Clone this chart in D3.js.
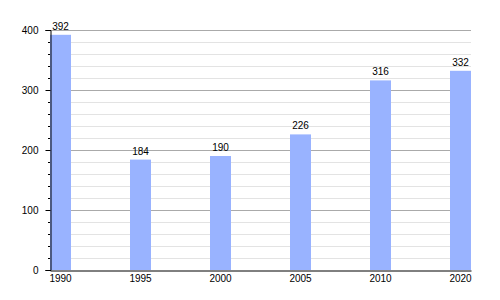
<!DOCTYPE html>
<html>
<head>
<meta charset="utf-8">
<script src="https://cdn.jsdelivr.net/npm/d3@7"></script>
<style>
  body { margin: 0; background: #fff; }
  text { font-family: "Liberation Sans", Arial, sans-serif; font-size: 10px; fill: #000; }
</style>
</head>
<body>
<script>
// Chart data
var years = ['1990', '1995', '2000', '2005', '2010', '2020'];
var population = [392, 184, 190, 226, 316, 332];
var majorTicks = [0, 100, 200, 300, 400];

var width = 500, height = 300;
var plotLeft = 50, plotRight = 471, plotTop = 30, plotBottom = 270;

var svg = d3.select('body').append('svg')
    .attr('width', width)
    .attr('height', height);

var x = d3.scaleBand()
    .domain(years)
    .range([plotLeft, plotRight])
    .paddingInner(0.7375)
    .paddingOuter(0);

var y = d3.scaleLinear()
    .domain([0, 400])
    .range([plotBottom, plotTop]);

var minorTicks = d3.range(0, 401, 20).filter(function (d) { return d % 100 !== 0; });

function py(d) { return Math.round(y(d)) + 0.5; }

// Grid lines, minor first
svg.append('g').selectAll('line').data(minorTicks).enter()
    .append('line')
    .attr('x1', plotLeft).attr('x2', plotRight)
    .attr('y1', py).attr('y2', py)
    .attr('stroke', '#e3e3e3');

svg.append('g').selectAll('line').data(majorTicks.filter(function (d) { return d > 0; })).enter()
    .append('line')
    .attr('x1', plotLeft).attr('x2', plotRight)
    .attr('y1', py).attr('y2', py)
    .attr('stroke', '#aaaaaa');

// Bars
svg.append('g').selectAll('rect').data(population).enter()
    .append('rect')
    .attr('x', function (d, i) { return x(years[i]); })
    .attr('y', function (d) { return y(d); })
    .attr('width', x.bandwidth())
    .attr('height', function (d) { return plotBottom - y(d); })
    .attr('fill', '#99b3ff');

// Value labels
svg.append('g').selectAll('text').data(population).enter()
    .append('text')
    .attr('x', function (d, i) { return x(years[i]) + x.bandwidth() / 2; })
    .attr('y', function (d) { return y(d) - 5; })
    .attr('text-anchor', 'middle')
    .text(function (d) { return d; });

// Y axis with minor ticks
var yAxis = svg.append('g')
    .attr('transform', 'translate(' + (plotLeft + 0.5) + ',0)')
    .call(d3.axisLeft(y).tickValues(majorTicks).tickSize(5).tickPadding(7));
yAxis.select('.domain').attr('stroke', '#000');
yAxis.selectAll('text').style('font-size', '10px').style('font-family', '"Liberation Sans", Arial, sans-serif');

svg.append('g').selectAll('line').data(minorTicks).enter()
    .append('line')
    .attr('x1', plotLeft - 2).attr('x2', plotLeft)
    .attr('y1', py).attr('y2', py)
    .attr('stroke', '#000');

// X axis
var xAxis = svg.append('g')
    .attr('transform', 'translate(0,' + (plotBottom + 0.5) + ')')
    .call(d3.axisBottom(x).tickSize(0).tickPadding(4).tickSizeOuter(0));
xAxis.select('.domain').attr('stroke', '#000');
xAxis.selectAll('text').style('font-size', '10px').style('font-family', '"Liberation Sans", Arial, sans-serif');
</script>
</body>
</html>
